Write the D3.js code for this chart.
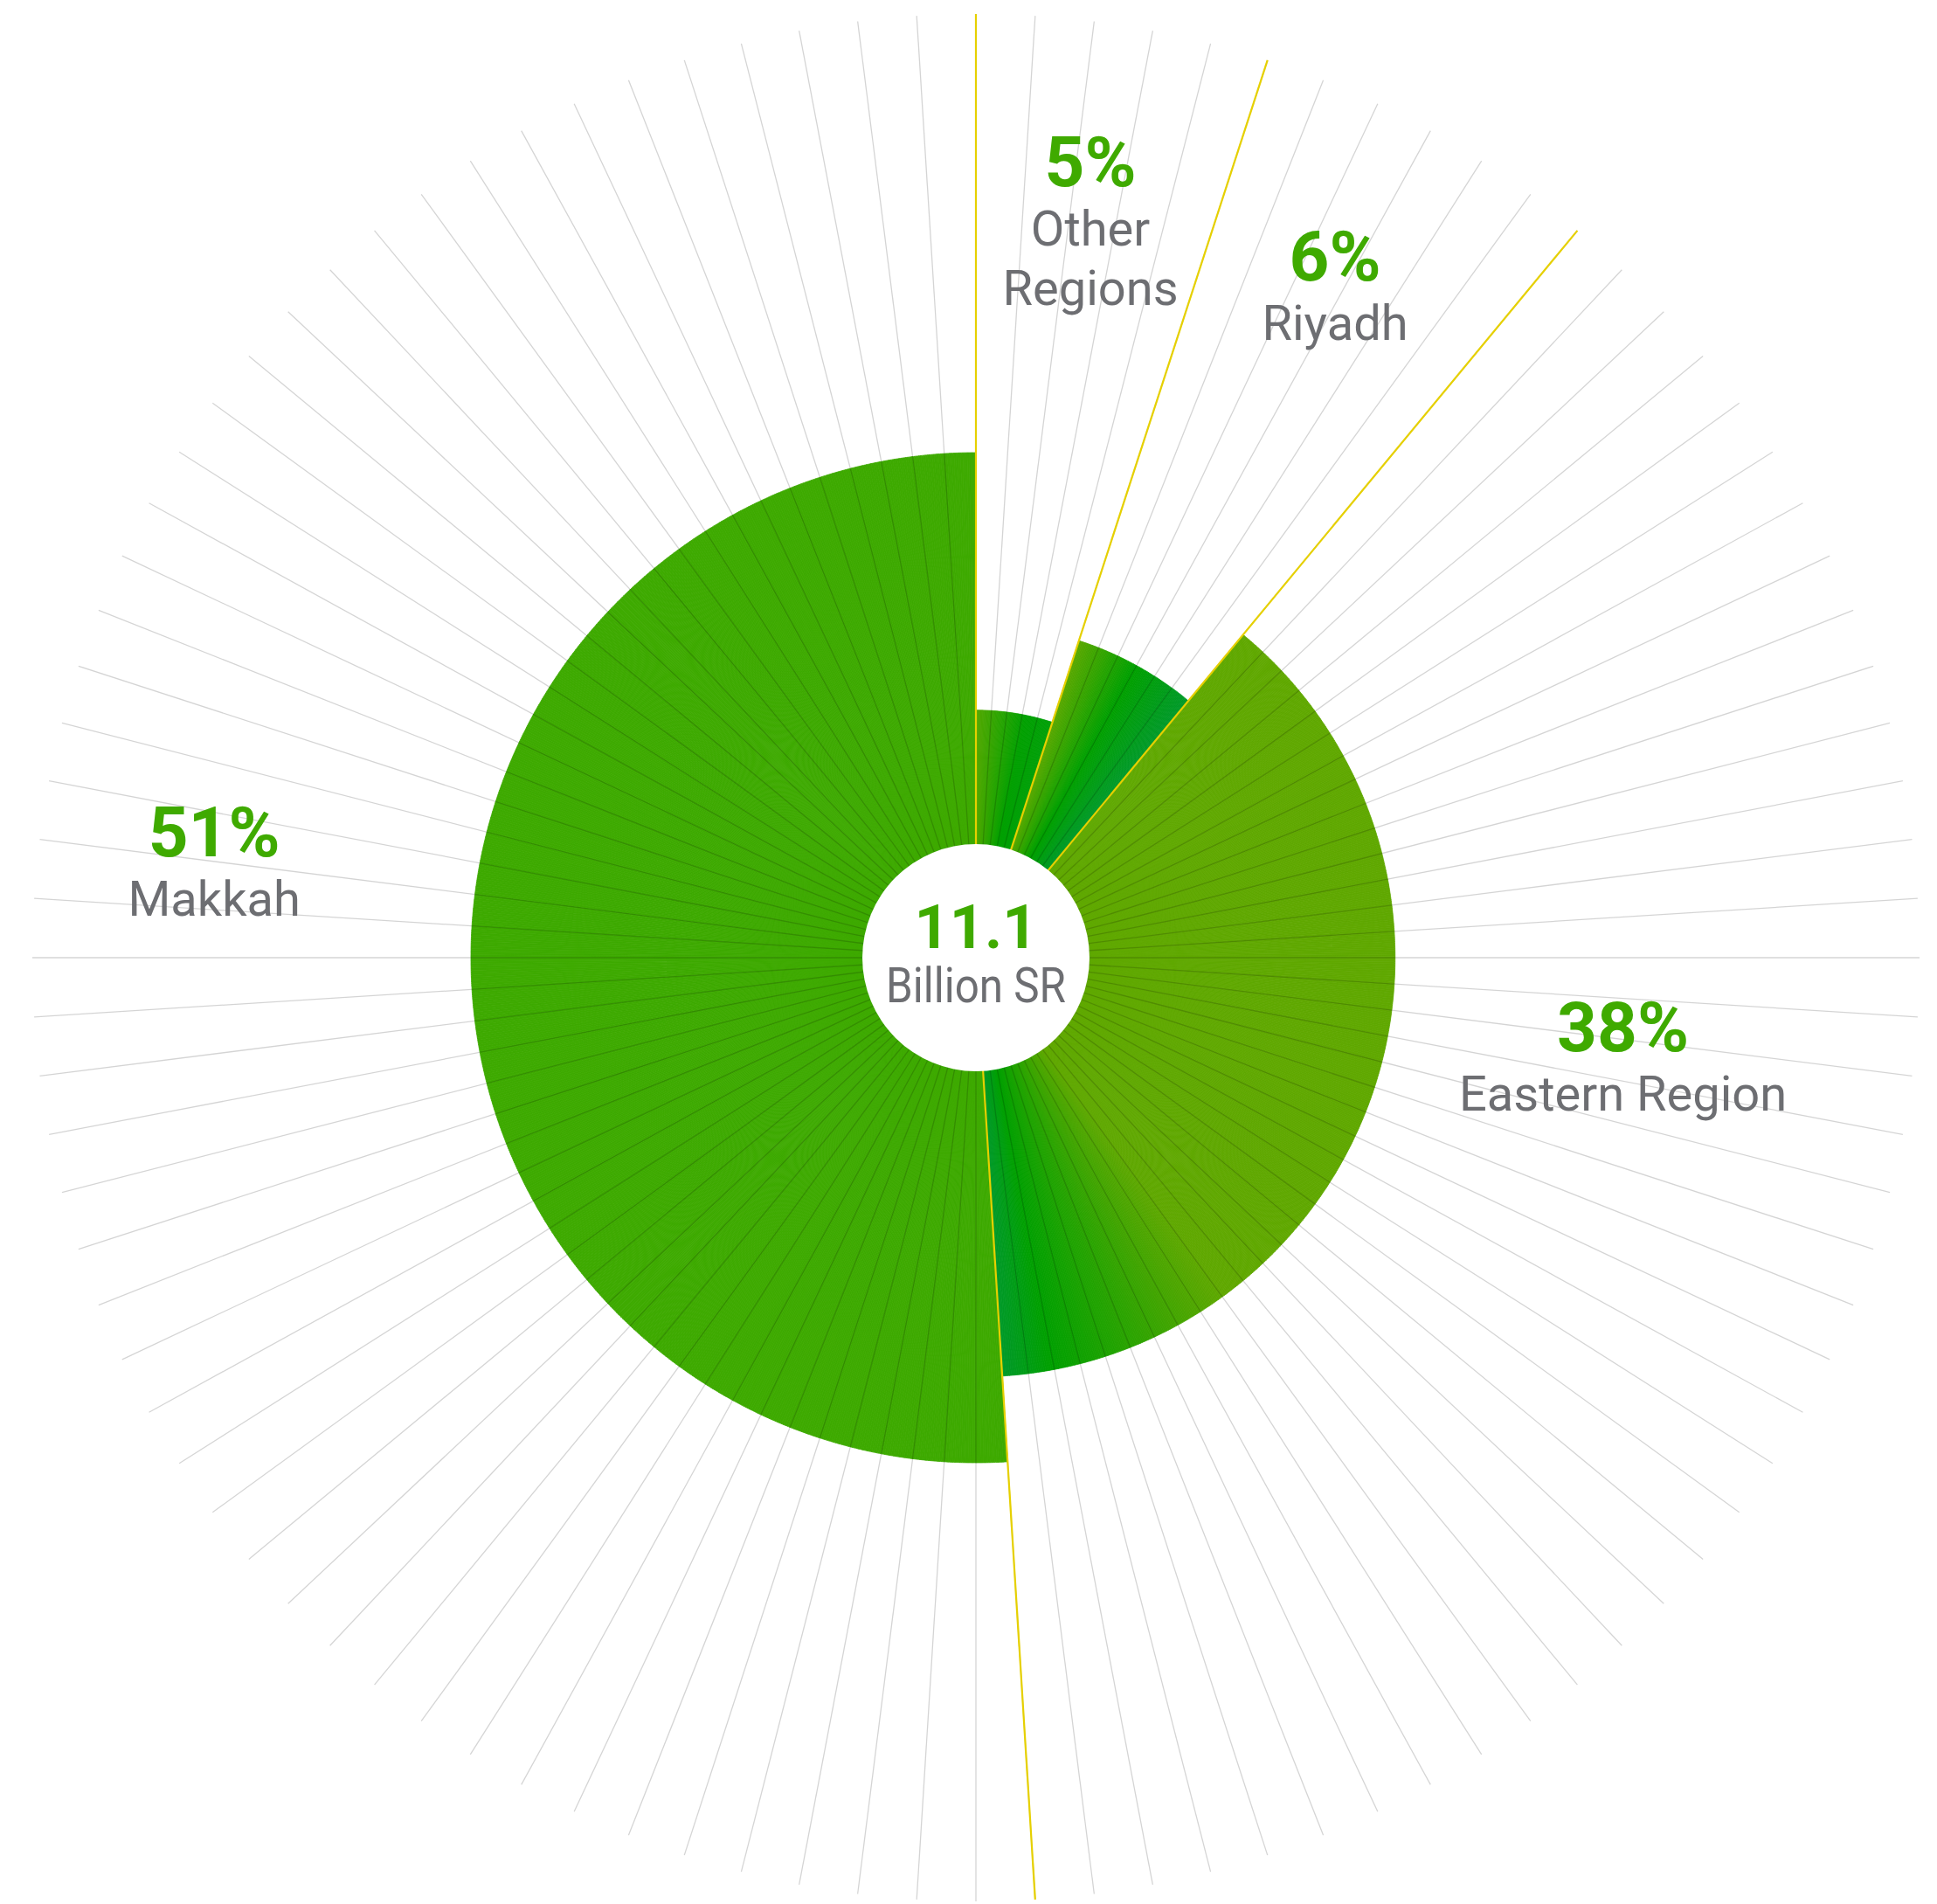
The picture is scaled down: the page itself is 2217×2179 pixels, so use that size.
<!DOCTYPE html>
<html>
<head>
<meta charset="utf-8">
<script src="https://cdn.jsdelivr.net/npm/d3@7"></script>
<style>
  html, body { margin: 0; padding: 0; background: #ffffff; }
  svg { display: block; }
</style>
</head>
<body>
<svg id="chart" width="2217" height="2179"></svg>
<script>
// Regional shares of the total, in percent, clockwise from 12 o'clock
const regions = ["Other Regions", "Riyadh", "Eastern Region", "Makkah"];
const shares = [5, 6, 38, 51];
const shareLabels = ["5%", "6%", "38%", "51%"];
const nameLines = [["Other", "Regions"], ["Riyadh"], ["Eastern Region"], ["Makkah"]];
const totalValue = "11.1";
const totalUnit = "Billion SR";
const spokeCount = 100;

// ---- layout ----
const W = 2217, H = 2179;
const cx = 1117, cy = 1096;
const holeRadius = 130;
const spokeRadius = 1080;
const GREEN = "#3faa00", GREY = "#6d6e72", YELLOW = "#e6d000";

// colour ramps along each wedge (t = 0 at start angle, 1 at end angle)
const ramps = {
  "Other Regions":  [[0, "#52a800"], [0.65, "#00a000"], [1, "#00a008"]],
  "Riyadh":         [[0, "#5aa800"], [0.5, "#00a000"], [1, "#009a2a"]],
  "Eastern Region": [[0, "#60a800"], [0.76, "#60a800"], [0.95, "#00a000"], [1, "#009a2a"]],
  "Makkah":         [[0, "#3eaa00"], [1, "#3eaa00"]]
};
function rampColor(stops, t) {
  for (let i = 1; i < stops.length; i++) {
    if (t <= stops[i][0]) {
      const [t0, c0] = stops[i - 1], [t1, c1] = stops[i];
      const k = t1 === t0 ? 0 : (t - t0) / (t1 - t0);
      return d3.interpolateRgb(c0, c1)(k);
    }
  }
  return stops[stops.length - 1][1];
}

// label placement: polar angle (deg, clockwise from 12 o'clock) and distance
const labelPlacement = {
  "Other Regions":  { angle: 8.9,   r: 847 },
  "Riyadh":         { angle: 28.3,  r: 867 },
  "Eastern Region": { angle: 99.1,  r: 750 },
  "Makkah":         { angle: 276.8, r: 878 }
};

const svg = d3.select("#chart");
svg.append("rect").attr("width", W).attr("height", H).attr("fill", "#fff");
const g = svg.append("g").attr("transform", `translate(${cx},${cy})`);

const data = regions.map((name, i) => ({ name, share: shares[i], label: shareLabels[i], lines: nameLines[i] }));
const pie = d3.pie().sort(null).value(d => d.share);
const slices = pie(data);

// wedge length follows the rank of the share
const ranked = shares.slice().sort((a, b) => a - b);
const radius = d3.scaleLinear().domain([0, shares.length]).range([185, 578]);
const outerOf = d => radius(ranked.indexOf(d.data.share) + 1);

// each wedge is painted as fine angular strips to carry its colour ramp
const step = Math.PI / 720;
const arc = d3.arc();
const wedges = g.append("g");
slices.forEach(s => {
  const n = Math.max(1, Math.ceil((s.endAngle - s.startAngle) / step));
  const strips = d3.range(n).map(i => ({
    a0: s.startAngle + (s.endAngle - s.startAngle) * i / n,
    a1: s.startAngle + (s.endAngle - s.startAngle) * (i + 1) / n,
    t: (i + 0.5) / n
  }));
  wedges.append("g").selectAll("path").data(strips).join("path")
    .attr("d", d => arc({ innerRadius: holeRadius - 2, outerRadius: outerOf(s), startAngle: d.a0, endAngle: d.a1 }))
    .attr("fill", d => rampColor(ramps[s.data.name], d.t))
    .attr("stroke", d => rampColor(ramps[s.data.name], d.t))
    .attr("stroke-width", 0.8);
});

// background spokes, darkening whatever they cross
const spokeAngle = d3.scaleLinear().domain([0, spokeCount]).range([0, 2 * Math.PI]);
g.append("g").selectAll("line").data(d3.range(spokeCount)).join("line")
  .attr("x1", 0).attr("y1", 0)
  .attr("x2", i => spokeRadius * Math.sin(spokeAngle(i)))
  .attr("y2", i => -spokeRadius * Math.cos(spokeAngle(i)))
  .attr("stroke", "#000").attr("stroke-opacity", 0.17).attr("stroke-width", 1.3);

// yellow separators at each wedge boundary
g.append("g").selectAll("line").data(slices).join("line")
  .attr("x1", 0).attr("y1", 0)
  .attr("x2", d => spokeRadius * Math.sin(d.startAngle))
  .attr("y2", d => -spokeRadius * Math.cos(d.startAngle))
  .attr("stroke", YELLOW).attr("stroke-width", 2.2);

// centre hole with the total
g.append("circle").attr("r", holeRadius).attr("fill", "#fff");
g.append("text").attr("text-anchor", "middle").attr("y", -11)
  .attr("font-family", "Roboto").attr("font-weight", 700).attr("font-size", 70)
  .attr("fill", GREEN).text(totalValue);
g.append("text").attr("text-anchor", "middle").attr("y", 51)
  .attr("font-family", "Roboto").attr("font-weight", 400).attr("font-size", 55)
  .attr("textLength", 206).attr("lengthAdjust", "spacingAndGlyphs")
  .attr("fill", GREY).text(totalUnit);

// region labels
const labels = g.append("g").selectAll("g").data(slices).join("g")
  .attr("transform", d => {
    const p = labelPlacement[d.data.name];
    const a = p.angle * Math.PI / 180;
    return `translate(${p.r * Math.sin(a)},${-p.r * Math.cos(a)})`;
  });
labels.each(function (d) {
  const el = d3.select(this);
  const nLines = d.data.lines.length + 1;
  const lineGap = 68;
  const top = -((nLines - 1) * lineGap) / 2 + 22;
  el.append("text").attr("text-anchor", "middle").attr("y", top)
    .attr("font-family", "Roboto").attr("font-weight", 700).attr("font-size", 80)
    .attr("fill", GREEN).text(d.data.label);
  d.data.lines.forEach((ln, i) => {
    el.append("text").attr("text-anchor", "middle").attr("y", top + lineGap * (i + 1))
      .attr("font-family", "Roboto").attr("font-weight", 400).attr("font-size", 56)
      .attr("fill", GREY).text(ln);
  });
});
</script>
</body>
</html>
